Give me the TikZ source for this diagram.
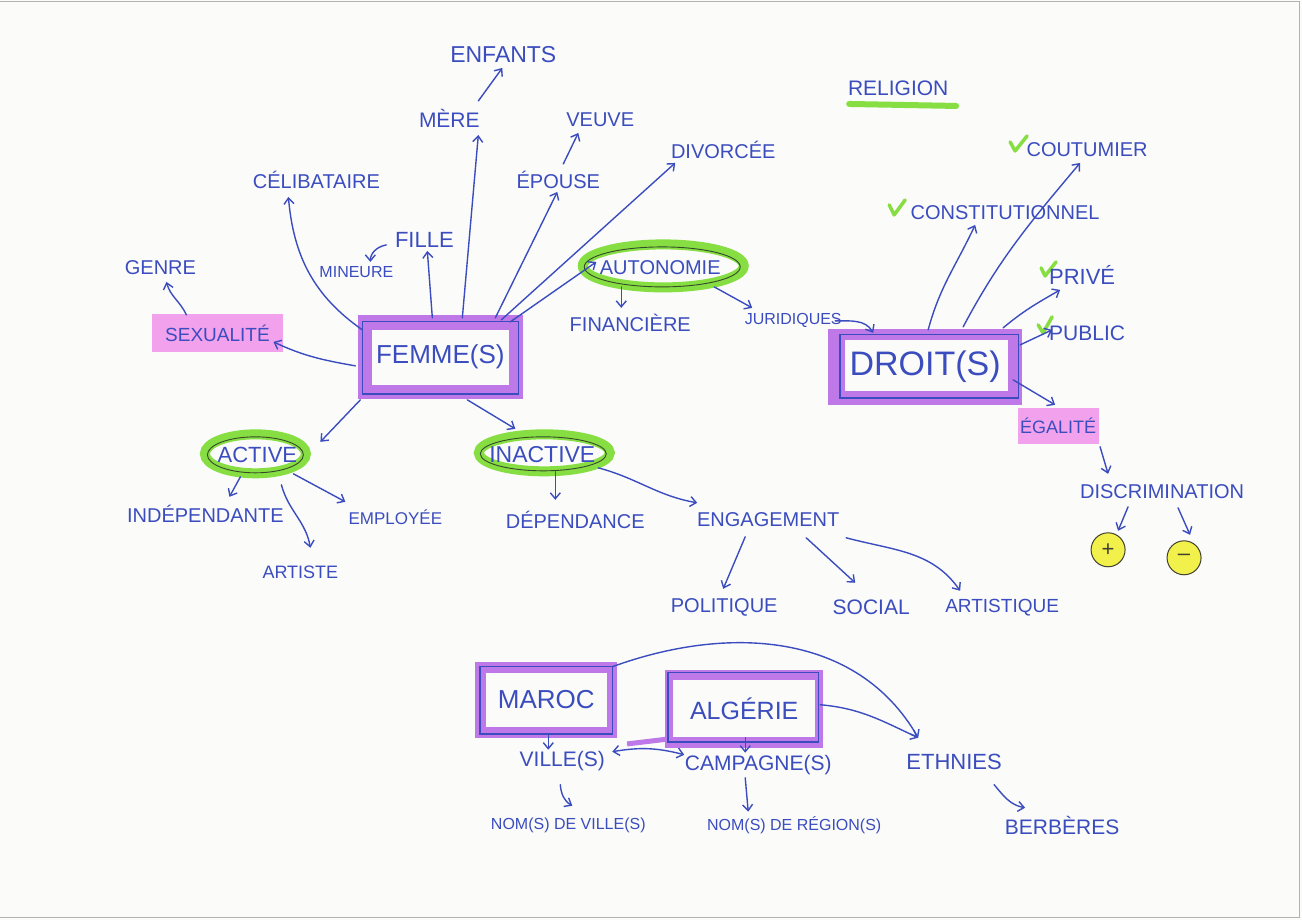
\documentclass[tikz,border=0pt]{standalone}
\usepackage{fontspec}
\setmainfont{Liberation Sans}
\usetikzlibrary{arrows.meta,calc}
\pgfdeclarelayer{bg}
\pgfsetlayers{bg,main}
\definecolor{ink}{HTML}{3B4DBE}
\definecolor{hlpurple}{HTML}{BE78E8}
\definecolor{hlpink}{HTML}{F2A2EC}
\definecolor{hlgreen}{HTML}{86DE42}
\definecolor{ringdark}{HTML}{354A2A}
\definecolor{hlyellow}{HTML}{F2F04A}
\definecolor{coindark}{HTML}{3F4030}
\definecolor{paper}{HTML}{FBFBFA}
\newcommand{\myfs}[1]{\fontsize{#1}{#1}\selectfont}
\begin{document}
\begin{tikzpicture}[x=1pt,y=-1pt,
  lbl/.style={text=ink, inner sep=1pt, font=\myfs{#1}}, lbl/.default=20,
  bigbox/.style={text=ink, inner sep=0pt, font=\myfs{#1}},
  pinkbox/.style={fill=hlpink, text=ink, inner sep=0pt},
  arr/.style={draw=ink, line width=1.4pt, line cap=round, -{Straight Barb[length=6pt,width=10pt]}},
  darr/.style={draw=ink, line width=1.4pt, line cap=round, {Straight Barb[length=6pt,width=10pt]}-{Straight Barb[length=6pt,width=10pt]}},
  greenring/.style={draw=hlgreen, line width=10pt},
  thinring/.style={draw=ringdark, line width=0.9pt},
  inkframe/.style={draw=ink, line width=1.3pt},
  checkmk/.style={draw=hlgreen, line width=3.5pt, line cap=round, line join=round},
  coin/.style={circle, draw=coindark, line width=1pt, fill=hlyellow, minimum size=34pt, inner sep=0pt, text=coindark, font=\myfs{22}}
]
\begin{pgfonlayer}{bg}
\fill[paper] (0,0) rectangle (1302,920);
\draw[black!30, line width=1pt] (0,1.5) -- (1299.5,1.5) -- (1299.5,917.5) -- (0,917.5);
\end{pgfonlayer}
\useasboundingbox (0,0) rectangle (1302,920);

% ---------- nodes ----------
\node[lbl=23] (enfants) at (503,55) {ENFANTS};
\node[lbl=21] (mere) at (449,118) {MÈRE};
\node[lbl] (veuve) at (600,120) {VEUVE};
\node[lbl] (epouse) at (558,180) {ÉPOUSE};
\node[lbl] (divorcee) at (723,150) {DIVORCÉE};
\node[lbl] (celib) at (316,180) {CÉLIBATAIRE};
\node[lbl=22] (fille) at (424,240) {FILLE};
\node[lbl=16] (mineure) at (356,272) {MINEURE};
\node[lbl] (genre) at (160,268) {GENRE};
\node[pinkbox, minimum width=131pt, minimum height=38pt, font=\myfs{19}] (sexualite) at (217,333) {SEXUALITÉ};
\node[bigbox=26, minimum width=164pt, minimum height=84pt] (femme) at (440,357) {FEMME(S)};
\node[lbl] (autonomie) at (660,268) {AUTONOMIE};
\node[lbl] (financiere) at (630,323) {FINANCIÈRE};
\node[lbl=16] (juridiques) at (793,321) {JURIDIQUES};
\node[lbl=21] (religion) at (898,88) {RELIGION};
\node[lbl] (coutumier) at (1087,150) {COUTUMIER};
\node[lbl] (constit) at (1005,213) {CONSTITUTIONNEL};
\node[lbl=22] (prive) at (1082,275) {PRIVÉ};
\node[lbl=21] (public) at (1087,333) {PUBLIC};
\node[bigbox=34, minimum width=194pt, minimum height=76pt] (droit) at (925,367) {DROIT(S)};
\node[pinkbox, minimum width=81pt, minimum height=36pt, font=\myfs{18}] (egalite) at (1058,426) {ÉGALITÉ};
\node[lbl] (discrim) at (1162,492) {DISCRIMINATION};
\node[coin] (plus) at (1108,550) {+};
\node[coin] (minus) at (1184,558) {–};
\node[lbl=22] (active) at (257,455) {ACTIVE};
\node[lbl=23] (inactive) at (542,455) {INACTIVE};
\node[lbl] (indep) at (205,514) {INDÉPENDANTE};
\node[lbl=17] (employee) at (395,517) {EMPLOYÉE};
\node[lbl=18] (artiste) at (300,573) {ARTISTE};
\node[lbl] (dependance) at (575,520) {DÉPENDANCE};
\node[lbl] (engagement) at (768,520) {ENGAGEMENT};
\node[lbl] (politique) at (724,608) {POLITIQUE};
\node[lbl=21] (social) at (871,608) {SOCIAL};
\node[lbl=19] (artistique) at (1002,608) {ARTISTIQUE};
\node[bigbox=26, minimum width=142pt, minimum height=76pt] (maroc) at (546,700) {MAROC};
\node[bigbox=25, minimum width=158pt, minimum height=78pt] (algerie) at (744,709) {ALGÉRIE};
\node[lbl=21] (villes) at (562,761) {VILLE(S)};
\node[lbl=21] (campagnes) at (758,765) {CAMPAGNE(S)};
\node[lbl=22] (ethnies) at (954,762) {ETHNIES};
\node[lbl=16] (nomville) at (568,826) {NOM(S) DE VILLE(S)};
\node[lbl=16] (nomregion) at (794,826) {NOM(S) DE RÉGION(S)};
\node[lbl=21] (berberes) at (1062,826) {BERBÈRES};

% ---------- highlights and frames ----------
\begin{pgfonlayer}{bg}
  % FEMME(S)
  \fill[hlpurple] (femme.north west) rectangle (femme.south east);
  \fill[paper] ($(femme.north west)+(14,15)$) rectangle ($(femme.south east)+(-14,-14)$);
  \draw[inkframe] ($(femme.north west)+(4,7)$) rectangle ($(femme.south east)+(-4,-5)$);
  % DROIT(S)
  \fill[hlpurple] (droit.north west) rectangle (droit.south east);
  \fill[paper] ($(droit.north west)+(17,11)$) rectangle ($(droit.south east)+(-14,-14)$);
  \draw[inkframe] ($(droit.north west)+(12,6)$) rectangle ($(droit.south east)+(-4,-7)$);
  % MAROC
  \fill[hlpurple] (maroc.north west) rectangle (maroc.south east);
  \fill[paper] ($(maroc.north west)+(11,11)$) rectangle ($(maroc.south east)+(-10,-11)$);
  \draw[inkframe] ($(maroc.north west)+(5,5)$) rectangle ($(maroc.south east)+(-5,-4)$);
  % ALGERIE
  \fill[hlpurple] (algerie.north west) rectangle (algerie.south east);
  \draw[hlpurple, line width=5pt] ($(algerie.south west)+(-38,-4)$) -- ($(algerie.south west)+(4,-9)$);
  \fill[paper] ($(algerie.north west)+(8,10)$) rectangle ($(algerie.south east)+(-8,-11)$);
  \draw[inkframe] ($(algerie.north west)+(3,3)$) rectangle ($(algerie.south east)+(-5,-6)$);
  % green rings
  \draw[greenring] ($(autonomie)+(3,-2)$) ellipse [x radius=80.5pt, y radius=21.5pt];
  \draw[thinring] ($(autonomie)+(2,-1)$) ellipse [x radius=78pt, y radius=20pt];
  \draw[greenring] ($(active)+(-2,-1)$) ellipse [x radius=50.5pt, y radius=19.5pt];
  \draw[thinring] ($(active)+(-2,0)$) ellipse [x radius=48pt, y radius=18pt];
  \draw[greenring] ($(inactive)+(2,-2)$) ellipse [x radius=65.5pt, y radius=18.5pt];
  \draw[thinring] ($(inactive)+(1,-1)$) ellipse [x radius=63pt, y radius=17pt];
  % RELIGION underline
  \draw[hlgreen, line width=6pt, line cap=round] ($(religion)+(-49,16)$) -- ($(religion)+(58,18)$);
  % check marks
  \draw[checkmk] ($(coutumier)+(-77,-8)$) -- ($(coutumier)+(-72,1)$) -- ($(coutumier)+(-60,-14)$);
  \draw[checkmk] ($(constit)+(-116,-8)$) -- ($(constit)+(-111,2)$) -- ($(constit)+(-100,-13)$);
  \draw[checkmk] ($(prive)+(-41,-7)$) -- ($(prive)+(-37,1)$) -- ($(prive)+(-26,-13)$);
  \draw[checkmk] ($(public)+(-49,-8)$) -- ($(public)+(-44,0)$) -- ($(public)+(-35,-16)$);
\end{pgfonlayer}

% ---------- connectors ----------
\draw[arr] ($(femme)+(-78,-27)$) to[out=145,in=-85] ($(celib)+(-28,17)$);
\draw[arr] ($(femme)+(-8,-39)$) -- ($(fille)+(3,11)$);
\draw[arr] ($(fille)+(-38,5)$) to[out=190,in=90] ($(mineure)+(14,-10)$);
\draw[arr] ($(femme)+(22,-39)$) -- ($(mere)+(29,17)$);
\draw[arr] ($(mere)+(29,-17)$) -- ($(enfants)+(-1,13)$);
\draw[arr] ($(femme)+(55,-39)$) -- ($(epouse)+(-1,12)$);
\draw[arr] ($(epouse)+(5,-16)$) -- ($(veuve)+(-22,13)$);
\draw[arr] ($(femme)+(61,-37)$) -- ($(divorcee)+(-48,13)$);
\draw[arr] ($(femme)+(70,-35)$) -- ($(autonomie)+(-64,-6)$);
\draw[arr] ($(autonomie)+(-39,19)$) -- ($(financiere)+(-9,-15)$);
\draw[arr] ($(autonomie)+(54,19)$) -- ($(juridiques)+(-41,-13)$);
\draw[arr] ($(juridiques)+(42,0)$) to[out=0,in=120] ($(droit)+(-52,-34)$);
\draw[arr] ($(femme)+(-85,9)$) to[out=170,in=-25] ($(sexualite)+(56,9)$);
\draw[arr] ($(sexualite)+(-31,-18)$) to[out=115,in=-75] ($(genre)+(6,14)$);
\draw[arr] ($(femme)+(-80,43)$) -- ($(active)+(63,-13)$);
\draw[arr] ($(femme)+(27,43)$) -- ($(inactive)+(-27,-26)$);
\draw[arr] ($(active)+(-17,22)$) -- ($(indep)+(24,-17)$);
\draw[arr] ($(active)+(24,30)$) to[out=-75,in=100] ($(artiste)+(10,-25)$);
\draw[arr] ($(active)+(36,19)$) -- ($(employee)+(-50,-15)$);
\draw[arr] ($(inactive)+(13,17)$) -- ($(dependance)+(-20,-20)$);
\draw[arr] ($(inactive)+(56,13)$) to[out=-15,in=170] ($(engagement)+(-71,-17)$);
\draw[arr] ($(engagement)+(-23,17)$) -- ($(politique)+(-1,-19)$);
\draw[arr] ($(engagement)+(38,18)$) -- ($(social)+(-16,-25)$);
\draw[arr] ($(engagement)+(78,18)$) to[out=-15,in=125] ($(artistique)+(-42,-17)$);
\draw[arr] ($(droit)+(3,-37)$) to[out=75,in=-115] ($(constit)+(-30,12)$);
\draw[arr] ($(droit)+(38,-40)$) to[out=62,in=-130] ($(coutumier)+(-7,13)$);
\draw[arr] ($(droit)+(78,-39)$) to[out=40,in=-150] ($(prive)+(-22,15)$);
\draw[arr] ($(droit)+(95,-22)$) -- ($(public)+(-35,-3)$);
\draw[arr] ($(droit)+(88,13)$) -- ($(egalite)+(-3,-21)$);
\draw[arr] ($(egalite)+(42,21)$) -- ($(discrim)+(-54,-18)$);
\draw[arr] ($(discrim)+(-34,15)$) -- ($(plus)+(10,-19)$);
\draw[arr] ($(discrim)+(16,16)$) -- ($(minus)+(6,-23)$);
\draw[arr] ($(maroc)+(2,35)$) -- ($(villes)+(-14,-11)$);
\draw[arr] ($(algerie)+(1,29)$) -- ($(campagnes)+(-13,-12)$);
\draw[darr] ($(villes)+(50,-9)$) to[bend left=12] ($(campagnes)+(-74,-10)$);
\draw[arr] ($(villes)+(-2,24)$) to[out=-85,in=150] ($(nomville)+(4,-20)$);
\draw[arr] ($(campagnes)+(-13,13)$) -- ($(nomregion)+(-46,-14)$);
\draw[arr] ($(maroc)+(66,-33)$) to[out=20,in=120] ($(ethnies)+(-36,-24)$);
\draw[arr] ($(algerie)+(76,-4)$) to[out=-5,in=155] ($(ethnies)+(-36,-24)$);
\draw[arr] ($(ethnies)+(40,23)$) to[out=-50,in=170] ($(berberes)+(-37,-18)$);
\end{tikzpicture}
\end{document}
